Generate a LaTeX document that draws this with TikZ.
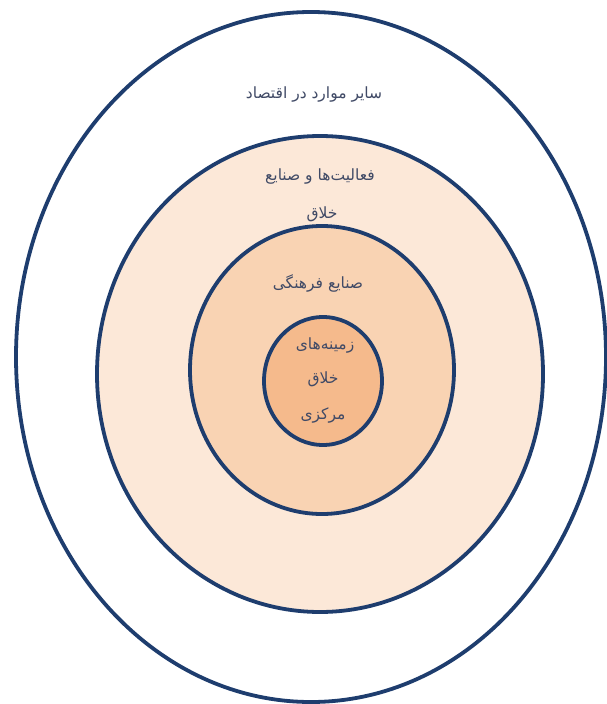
\documentclass[tikz,border=0pt]{standalone}
\usepackage{fontspec}
\newfontfamily\arabicfont[Script=Arabic]{DejaVu Sans}
\TeXXeTstate=1
\usetikzlibrary{positioning}
\definecolor{ringline}{HTML}{1E3D6E}
\definecolor{ringtext}{HTML}{404A66}
\definecolor{ringtwo}{HTML}{FCE8D8}
\definecolor{ringthree}{HTML}{F9D3B3}
\definecolor{ringcore}{HTML}{F5BA8C}
\tikzset{
    ring/.style={draw=ringline, line width=3.8pt},
    lbl/.style={font=\arabicfont\fontsize{15.5}{18}\selectfont, text=ringtext, align=center}
}

\begin{document}
\begin{tikzpicture}[x=1pt, y=-1pt]
    \useasboundingbox (0,0) rectangle (606,704);
    \draw[ring, fill=white] (311,357) ellipse (295 and 345);
    \draw[ring, fill=ringtwo] (320,374) ellipse (223 and 238);
    \draw[ring, fill=ringthree] (322,370) ellipse (132 and 144);
    \draw[ring, fill=ringcore] (323,381) ellipse (59 and 64);

    \node[lbl] (other) at (314,95) {\beginR سایر موارد در اقتصاد\endR};
    \node[lbl] (creative) at (320,177) {\beginR فعالیت‌ها و صنایع\endR};
    \node[lbl] (creative2) at (322,214) {\beginR خلاق\endR};
    \node[lbl] (cultural) at (318,283) {\beginR صنایع فرهنگی\endR};
    \node[lbl] (core) at (325,345) {\beginR زمینه‌های\endR};
    \node[lbl] (core2) at (323,379) {\beginR خلاق\endR};
    \node[lbl] (core3) at (323,415) {\beginR مرکزی\endR};
\end{tikzpicture}
\end{document}
